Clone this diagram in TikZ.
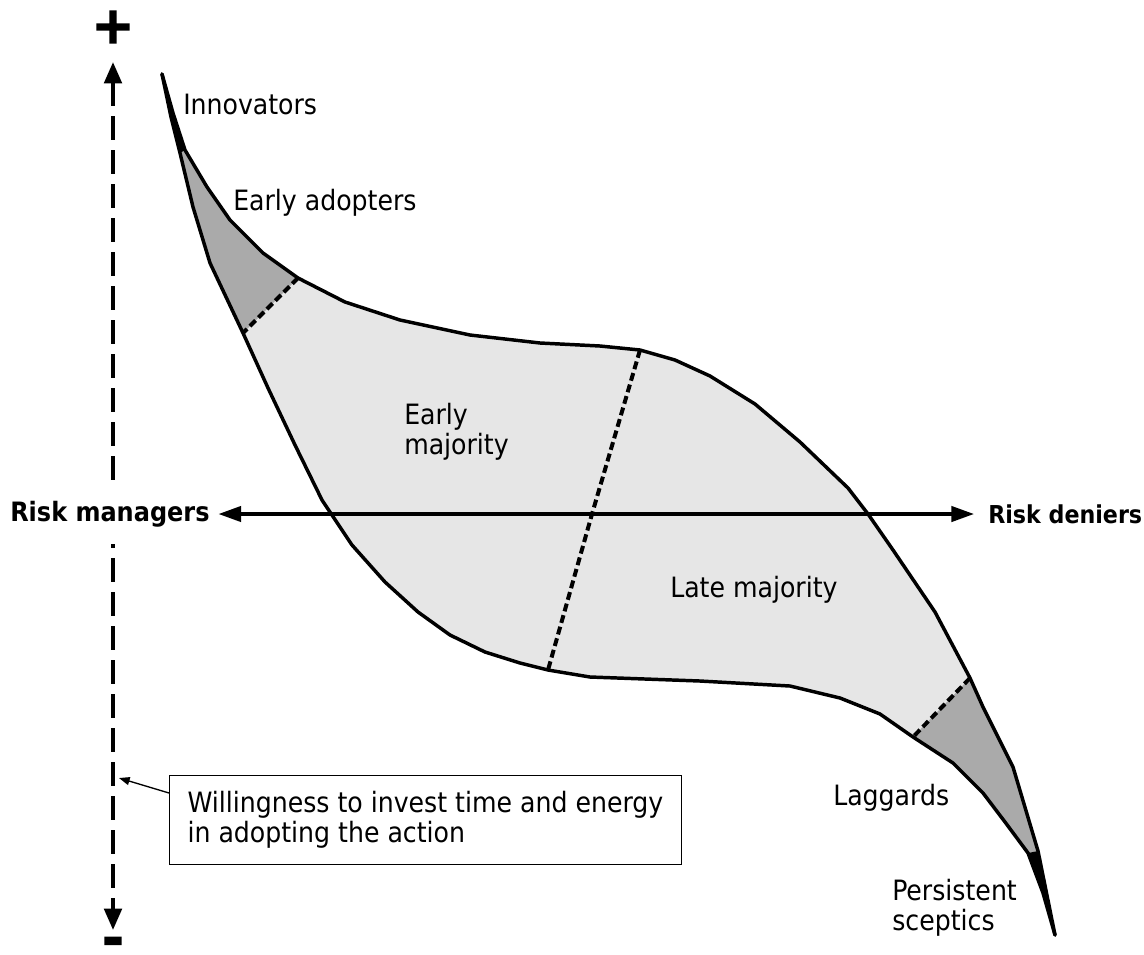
\documentclass[tikz,border=0pt]{standalone}
\usepackage{fontspec}
\setmainfont{DejaVu Sans Condensed}
\newfontfamily\signfont{DejaVu Sans Bold}[FakeBold=3]
\usetikzlibrary{arrows.meta}
\definecolor{paleband}{HTML}{E6E6E6}
\definecolor{midband}{HTML}{AAAAAA}
\begin{document}
\begin{tikzpicture}[x=0.75pt,y=-0.75pt,
  outline/.style={line width=2.6pt,line join=round,line cap=round},
  divider/.style={line width=3pt,dash pattern=on 6pt off 3pt},
  txt/.style={inner sep=0pt,font=\fontsize{21}{22.5}\selectfont,align=left},
  pole/.style={fill=white,inner xsep=1.5pt,inner ysep=13pt,font=\fontsize{20}{24}\selectfont\bfseries},
  sign/.style={inner sep=0pt,font=\fontsize{38}{40}\signfont},
  axisline/.style={line width=2.5pt,{Triangle[length=17pt,width=11.5pt]}-{Triangle[length=17pt,width=11.5pt]}},
  vaxis/.style={line width=3pt,dash pattern=on 18pt off 7.5pt,{Triangle[length=16pt,width=13pt]}-{Triangle[length=16pt,width=13pt]}},
  notearrow/.style={line width=1pt,-{Triangle[length=8pt,width=6pt]}},
  notebox/.style={draw,fill=white,line width=0.9pt,inner xsep=13.5pt,inner ysep=12pt,font=\fontsize{21}{22.5}\selectfont,align=left},
]
\useasboundingbox (0,0) rectangle (1144,954);

% upper edge of the adoption band
\coordinate (u0) at (162,74);
\coordinate (u1) at (173,113);
\coordinate (u2) at (185,150);
\coordinate (u3) at (207,187);
\coordinate (u4) at (230,220);
\coordinate (u5) at (263,253);
\coordinate (u6) at (298,278);
\coordinate (u7) at (345,302);
\coordinate (u8) at (400,320);
\coordinate (u9) at (470,335);
\coordinate (u10) at (540,343);
\coordinate (u11) at (600,346);
\coordinate (u12) at (640,350);
\coordinate (u13) at (675,360);
\coordinate (u14) at (710,376);
\coordinate (u15) at (755,404);
\coordinate (u16) at (800,442);
\coordinate (u17) at (848,488);
\coordinate (u18) at (868,514);
\coordinate (u19) at (893,550);
\coordinate (u20) at (935,612);
\coordinate (u21) at (970,678);
\coordinate (u22) at (983,707);
\coordinate (u23) at (1013,767);
\coordinate (u24) at (1038,851);
\coordinate (u25) at (1055,935);

% lower edge of the adoption band
\coordinate (l0) at (162,74);
\coordinate (l1) at (171,117);
\coordinate (l2) at (180,153);
\coordinate (l3) at (193,207);
\coordinate (l4) at (210,263);
\coordinate (l5) at (243,333);
\coordinate (l6) at (268,388);
\coordinate (l7) at (295,445);
\coordinate (l8) at (322,500);
\coordinate (l9) at (352,545);
\coordinate (l10) at (385,582);
\coordinate (l11) at (418,612);
\coordinate (l12) at (450,635);
\coordinate (l13) at (485,652);
\coordinate (l14) at (520,663);
\coordinate (l15) at (548,670);
\coordinate (l16) at (590,677);
\coordinate (l17) at (700,681);
\coordinate (l18) at (790,686);
\coordinate (l19) at (840,698);
\coordinate (l20) at (880,714);
\coordinate (l21) at (913,737);
\coordinate (l22) at (953,763);
\coordinate (l23) at (983,793);
\coordinate (l24) at (1005,822);
\coordinate (l25) at (1028,853);
\coordinate (l26) at (1043,893);

\coordinate (mid) at (592,514);

% band fills
\fill[paleband] (u0) \foreach \i in {1,...,25}{ -- (u\i)} \foreach \i in {26,25,...,1}{ -- (l\i)} -- cycle;
\fill[midband] (u2) -- (u3) -- (u4) -- (u5) -- (u6) -- (l5) -- (l4) -- (l3) -- (l2) -- cycle;
\fill[midband] (u21) -- (u22) -- (u23) -- (u24) -- (l25) -- (l24) -- (l23) -- (l22) -- (l21) -- cycle;
\fill[black] (u0) -- (u1) -- (u2) -- (l2) -- (l1) -- cycle;
\fill[black] (u24) -- (u25) -- (l26) -- (l25) -- cycle;

% segment dividers
\draw[divider] (u6) -- (l5);
\draw[divider] (u12) -- (mid) -- (l15);
\draw[divider] (u21) -- (l21);

% vertical axis
\node[sign] (plus) at (113,27) {+};
\node[sign,anchor=north] (minus) at (113,937) {-};
\coordinate (vtop) at (113,62);
\coordinate (vbot) at (113,930);
\draw[vaxis] (vtop) -- (vbot);

% horizontal axis
\node[pole,anchor=west] (rm) at (8,514) {Risk managers};
\node[pole,anchor=west,font=\fontsize{18.5}{22}\selectfont\bfseries] (rd) at (986,514) {Risk deniers};
\draw[axisline] ([xshift=5pt]rm.east) -- ([xshift=-9pt]rd.west);

% band outline
\draw[outline] (u0) \foreach \i in {1,...,25}{ -- (u\i)};
\draw[outline] (l0) \foreach \i in {1,...,26}{ -- (l\i)} -- (u25);

% segment names
\node[txt,anchor=base west] (inn) at (183,114) {Innovators};
\node[txt,anchor=base west] (ead) at (233,210) {Early adopters};
\node[txt,anchor=north west] (emj) at (404,403) {Early\\majority};
\node[txt,anchor=base west] (lmj) at (670,597) {Late majority};
\node[txt,anchor=base west] (lag) at (833,805) {Laggards};
\node[txt,anchor=north west] (psc) at (892,879) {Persistent\\sceptics};

% note on the vertical axis
\node[notebox,anchor=north west] (note) at (169,775) {Willingness to invest time and energy\\in adopting the action};
\coordinate (vpt) at (119,778);
\draw[notearrow] ([yshift=-13.5pt]note.north west) -- (vpt);
\end{tikzpicture}
\end{document}
